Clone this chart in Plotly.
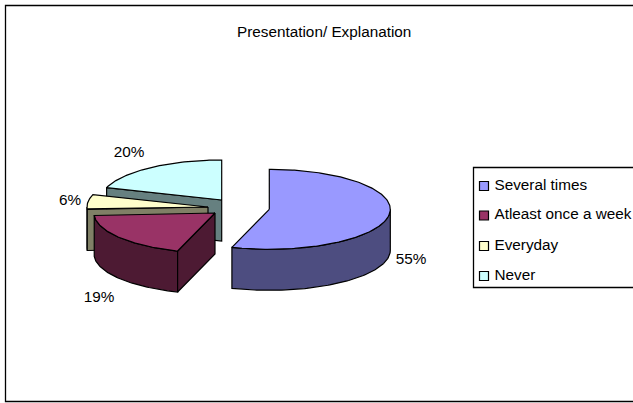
import math
import plotly.graph_objects as go

categories = ["Several times", "Atleast once a week", "Everyday", "Never"]
values = [55, 19, 6, 20]
title_text = "Presentation/ Explanation"

top_colors = ["#9999FF", "#993366", "#FFFFCC", "#CCFFFF"]
side_colors = ["#4D4D80", "#4D1A33", "#808066", "#668080"]
centers = [(269.3, 209.3), (215, 213), (208, 207), (221.7, 200)]
label_pos = [(411, 260), (99, 298), (70, 201), (129, 153)]
RX, RY, DEPTH = 121, 40, 41
FONT = "Liberation Sans"
TEXT_SIZE = 15.3

fig = go.Figure()


def rim(c, deg):
    a = math.radians(deg)
    return c[0] + RX * math.sin(a), c[1] - RY * math.cos(a)


def arc(c, a0, a1):
    n = max(2, int(abs(a1 - a0)))
    return [rim(c, a0 + (a1 - a0) * i / n) for i in range(n + 1)]


def poly(pts, color, name=None):
    xs = [p[0] for p in pts] + [pts[0][0]]
    ys = [p[1] for p in pts] + [pts[0][1]]
    fig.add_trace(go.Scatter(x=xs, y=ys, mode="lines", fill="toself", fillcolor=color,
                             line=dict(color="black", width=1.2), showlegend=False,
                             name=name, hoverinfo="name"))


def down(pts):
    return [(x, y + DEPTH) for x, y in pts]


angles = []
t = 0
for v in values:
    angles.append((t * 3.6, (t + v) * 3.6))
    t += v

# back to front: Never, Everyday, Atleast once a week, Several times
for i in [3, 2, 1, 0]:
    c = centers[i]
    a0, a1 = angles[i]
    name = categories[i]
    # outer wall: only the part of the rim on the viewer's side (90..270 deg)
    lo, hi = max(a0, 90), min(a1, 270)
    if hi > lo:
        wall = arc(c, lo, hi)
        poly(wall + down(wall)[::-1], side_colors[i], name)
    # radial wall facing the viewer
    if 90 < a0 < 360:
        e = [c, rim(c, a0)]
        poly(e + down(e)[::-1], side_colors[i], name)
    poly([c] + arc(c, a0, a1), top_colors[i], name)

# data labels
fig.add_trace(go.Scatter(x=[p[0] for p in label_pos], y=[p[1] for p in label_pos],
                         mode="text", text=[f"{v}%" for v in values],
                         textfont=dict(family=FONT, size=TEXT_SIZE, color="black"),
                         showlegend=False, hoverinfo="skip"))

# legend
leg_y = [186, 215.5, 246, 276]
fig.add_trace(go.Scatter(x=[484] * 4, y=leg_y, mode="markers",
                         marker=dict(symbol="square", size=9, color=top_colors,
                                     line=dict(color="black", width=1.2)),
                         showlegend=False, hovertext=categories, hoverinfo="text"))
fig.add_trace(go.Scatter(x=[494.5] * 4, y=leg_y, mode="text", text=categories,
                         textposition="middle right",
                         textfont=dict(family=FONT, size=TEXT_SIZE, color="black"),
                         showlegend=False, hoverinfo="skip"))

fig.add_shape(type="rect", x0=5.5, y0=5.5, x1=640, y1=401.5, line=dict(color="black", width=1.3), layer="below")
fig.add_shape(type="rect", x0=473.5, y0=167.5, x1=640, y1=287.5, line=dict(color="black", width=1.3), layer="below")

fig.add_annotation(x=323.5, y=31, text=title_text, showarrow=False,
                   font=dict(family=FONT, size=TEXT_SIZE, color="black"))

fig.update_layout(width=633, height=403, margin=dict(l=0, r=0, t=0, b=0),
                  paper_bgcolor="white", plot_bgcolor="white", showlegend=False,
                  xaxis=dict(range=[0, 633], visible=False, fixedrange=True),
                  yaxis=dict(range=[403, 0], visible=False, fixedrange=True))
fig.write_html("out.html", config=dict(displayModeBar=False),
               post_script="document.body.style.margin='0';document.body.style.overflow='hidden';")
